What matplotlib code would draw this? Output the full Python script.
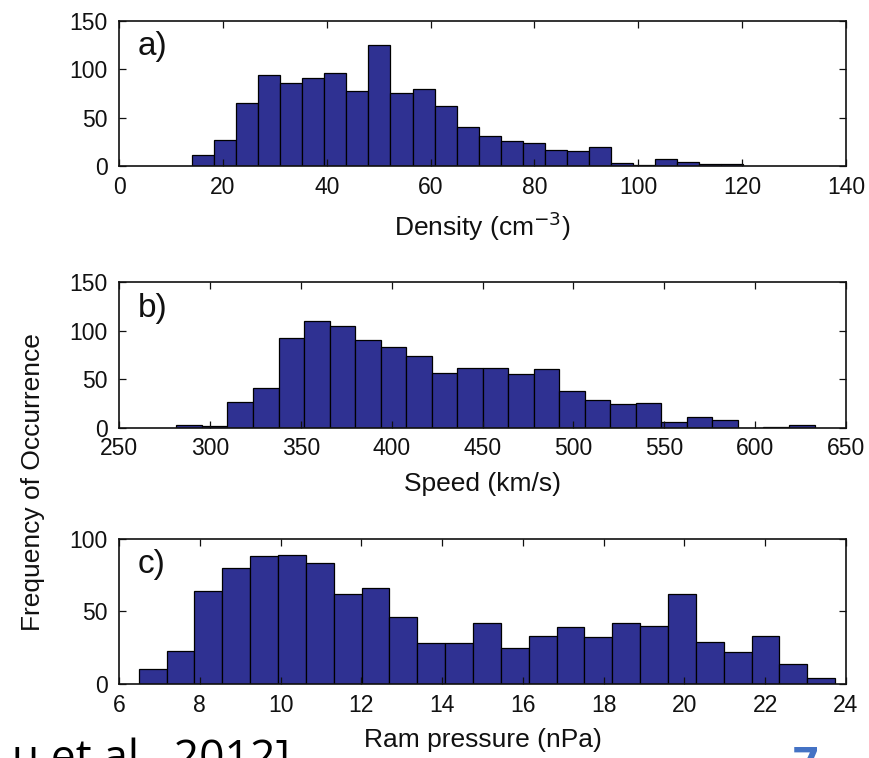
import numpy as np
import matplotlib
matplotlib.use("Agg")
import matplotlib.pyplot as plt

plt.rcParams['font.family'] = ['Liberation Sans', 'DejaVu Sans']

# histogram counts, 25 equal bins per quantity
density_counts = [11, 27, 65, 94, 86, 91, 96, 77, 125, 75, 79, 62, 40,
                  31, 26, 24, 17, 15, 20, 3, 1, 7, 4, 2, 2]
density_range = (14.07, 120.2)

speed_counts = [3, 2, 27, 41, 93, 110, 105, 91, 83, 74, 56, 62, 62,
                55, 61, 38, 29, 25, 26, 6, 11, 8, 0, 1, 3]
speed_range = (281.6, 632.7)

ram_counts = [10, 23, 64, 80, 88, 89, 83, 62, 66, 46, 28, 28, 42,
              25, 33, 39, 32, 42, 40, 62, 29, 22, 33, 14, 4]
ram_range = (6.486, 23.73)

panels = [
    dict(tag='a)', counts=density_counts, rng=density_range,
         xlim=(0, 140), xticks=np.arange(0, 141, 20),
         ylim=(0, 150), yticks=[0, 50, 100, 150],
         xlabel='Density (cm$^{-3}$)', pos=0.7810),
    dict(tag='b)', counts=speed_counts, rng=speed_range,
         xlim=(250, 650), xticks=np.arange(250, 651, 50),
         ylim=(0, 150), yticks=[0, 50, 100, 150],
         xlabel='Speed (km/s)', pos=0.4357),
    dict(tag='c)', counts=ram_counts, rng=ram_range,
         xlim=(6, 24), xticks=np.arange(6, 25, 2),
         ylim=(0, 100), yticks=[0, 50, 100],
         xlabel='Ram pressure (nPa)', pos=0.0976),
]

bar_color = '#2f3192'
ink = '#111111'

fig = plt.figure(figsize=(8.7, 7.58), dpi=100)

for p in panels:
    ax = fig.add_axes([0.1368, p['pos'], 0.8356, 0.1918])
    edges = np.linspace(p['rng'][0], p['rng'][1], len(p['counts']) + 1)
    ax.bar(edges[:-1], p['counts'], width=np.diff(edges), align='edge',
           color=bar_color, edgecolor='black', linewidth=0.9)
    ax.set_xlim(*p['xlim'])
    ax.set_ylim(*p['ylim'])
    ax.set_xticks(p['xticks'])
    ax.set_yticks(p['yticks'])
    ax.tick_params(direction='in', top=True, right=True, length=5,
                   width=0.9, labelsize=16.5, colors=ink)
    ax.tick_params(axis='x', pad=7)
    ax.tick_params(axis='y', pad=8)
    for s in ax.spines.values():
        s.set_linewidth(1.2)
        s.set_color(ink)
    ax.set_xlabel(p['xlabel'], fontsize=19, labelpad=8, color=ink)
    ax.text(0.026, 0.93, p['tag'], transform=ax.transAxes, fontsize=24,
            ha='left', va='top', color=ink)

fig.text(33 / 870, 0.364, 'Frequency of Occurrence', rotation=90,
         ha='center', va='center', fontsize=19, color=ink)

# slide footer: citation and page number, running off the bottom edge
fig.text(290 / 870, -0.017, 'u et al., 2012]', ha='right', va='baseline',
         fontsize=32, family='Open Sans', color='black')
fig.text(805 / 870, -0.028, '7', ha='center', va='baseline',
         fontsize=32, family='Open Sans', fontweight='bold', color='#4472c4')

fig.savefig('out.png', dpi=100)
